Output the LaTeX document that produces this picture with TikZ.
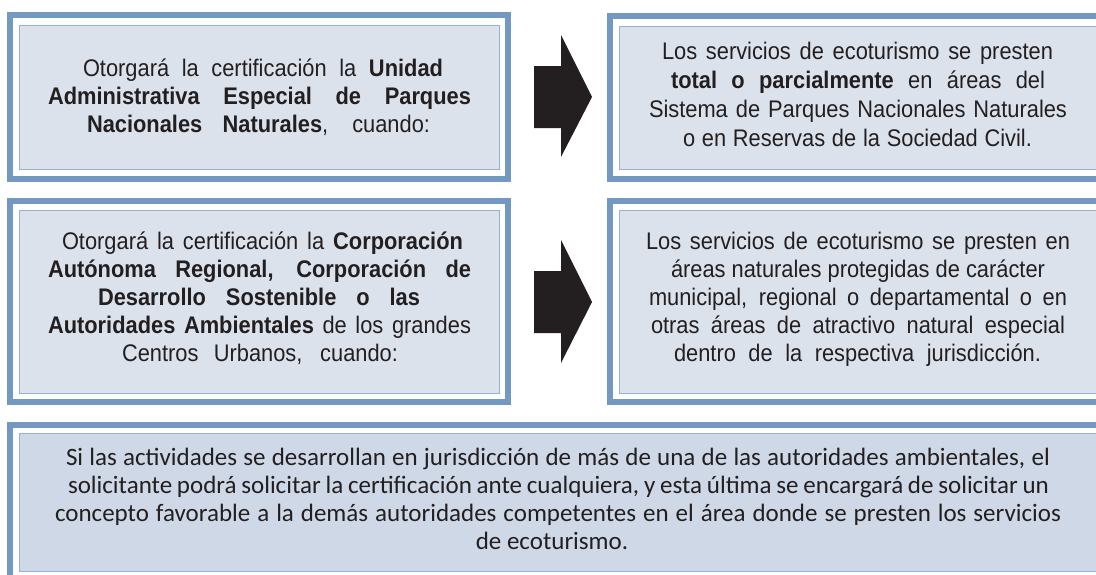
\documentclass[tikz,border=0pt]{standalone}
\usepackage{fontspec}
\setmainfont{Liberation Sans}[FakeStretch=0.91]
\newfontfamily\bottomfont{Carlito}
\definecolor{bandblue}{RGB}{115,153,192}
\definecolor{innerline}{RGB}{150,178,210}
\definecolor{boxfill}{RGB}{220,226,236}
\definecolor{boxfilltwo}{RGB}{206,216,230}
\definecolor{txtcol}{RGB}{35,31,32}
\newcommand{\jline}[2]{\makebox[#1pt][s]{#2}}
\begin{document}
\begin{tikzpicture}[x=1pt,y=-1pt,
  outerband/.style={draw=bandblue, line width=6pt},
  innerbox/.style={draw=innerline, line width=1pt, fill=boxfill},
  innerboxtwo/.style={draw=innerline, line width=1pt, fill=boxfilltwo},
  txt/.style={anchor=base, inner sep=0pt, text=txtcol, font=\fontsize{24}{28}\selectfont},
  btxt/.style={anchor=base, inner sep=0pt, text=txtcol, font=\bottomfont\fontsize{25}{28}\selectfont},
  blockarrow/.style={fill=txtcol, draw=none}]
\useasboundingbox (0,0) rectangle (1096,574);
\clip (0,0) rectangle (1096,574);
\fill[white] (0,0) rectangle (1096,574);

% Box 1
\draw[outerband] (10,15) rectangle (508,178.5);
\draw[innerbox] (19.5,25.5) rectangle (499.5,169.5);
% Box 2
\draw[outerband] (610,16) rectangle (1110,178.5);
\draw[innerbox] (619.5,26) rectangle (1100,169.5);
% Box 3
\draw[outerband] (10,200.5) rectangle (508,402);
\draw[innerbox] (19.5,210) rectangle (499.5,393);
% Box 4
\draw[outerband] (610,200.5) rectangle (1110,402);
\draw[innerbox] (619.5,210) rectangle (1100,393);
% Box 5
\draw[outerband] (10,425) rectangle (1110,590);
\draw[innerboxtwo] (19.5,433.5) rectangle (1100,571);

% Arrows
\path[blockarrow] (534,66) -- (561,66) -- (561,35) -- (592,97) -- (561,157) -- (561,128) -- (534,128) -- cycle;
\path[blockarrow] (534,271) -- (561,271) -- (561,240) -- (592,302) -- (561,363) -- (561,333) -- (534,333) -- cycle;

% Box 1 text
\node[txt] (a1) at (263,76) {\jline{360}{Otorgará la certificación la \textbf{Unidad}}};
\node[txt] (a2) at (259.5,104) {\jline{423}{\textbf{Administrativa Especial de Parques}}};
\node[txt] (a3) at (258.5,132) {\jline{343}{\textbf{Nacionales Naturales}, cuando:}};

% Box 2 text
\node[txt] (b1) at (857.5,59) {\jline{391}{Los servicios de ecoturismo se presten}};
\node[txt] (b2) at (858,88) {\jline{374}{\textbf{total o parcialmente} en áreas del}};
\node[txt] (b3) at (858,117) {\jline{418}{Sistema de Parques Nacionales Naturales}};
\node[txt] (b4) at (857.5,146) {\jline{349}{o en Reservas de la Sociedad Civil.}};

% Box 3 text
\node[txt] (c1) at (262.5,249) {\jline{401}{Otorgará la certificación la \textbf{Corporación}}};
\node[txt] (c2) at (259.5,277) {\jline{423}{\textbf{Autónoma Regional, Corporación de}}};
\node[txt] (c3) at (259,305) {\jline{322}{\textbf{Desarrollo Sostenible o las}}};
\node[txt] (c4) at (259.5,333) {\jline{423}{\textbf{Autoridades Ambientales} de los grandes}};
\node[txt] (c5) at (260,361) {\jline{276}{Centros Urbanos, cuando:}};

% Box 4 text
\node[txt] (d1) at (858,249) {\jline{424}{Los servicios de ecoturismo se presten en}};
\node[txt] (d2) at (858,277) {\jline{374}{áreas naturales protegidas de carácter}};
\node[txt] (d3) at (858,305) {\jline{418}{municipal, regional o departamental o en}};
\node[txt] (d4) at (858,333) {\jline{414}{otras áreas de atractivo natural especial}};
\node[txt] (d5) at (857.5,361) {\jline{367}{dentro de la respectiva jurisdicción.}};

% Box 5 text
\node[btxt] (e1) at (558,465) {\jline{984}{Si las actividades se desarrollan en jurisdicción de más de una de las autoridades ambientales, el}};
\node[btxt] (e2) at (558.5,493) {\jline{981}{solicitante podrá solicitar la certificación ante cualquiera, y esta última se encargará de solicitar un}};
\node[btxt] (e3) at (558,521) {\jline{1006}{concepto favorable a la demás autoridades competentes en el área donde se presten los servicios}};
\node[btxt] (e4) at (552,549) {de ecoturismo.};
\end{tikzpicture}
\end{document}
